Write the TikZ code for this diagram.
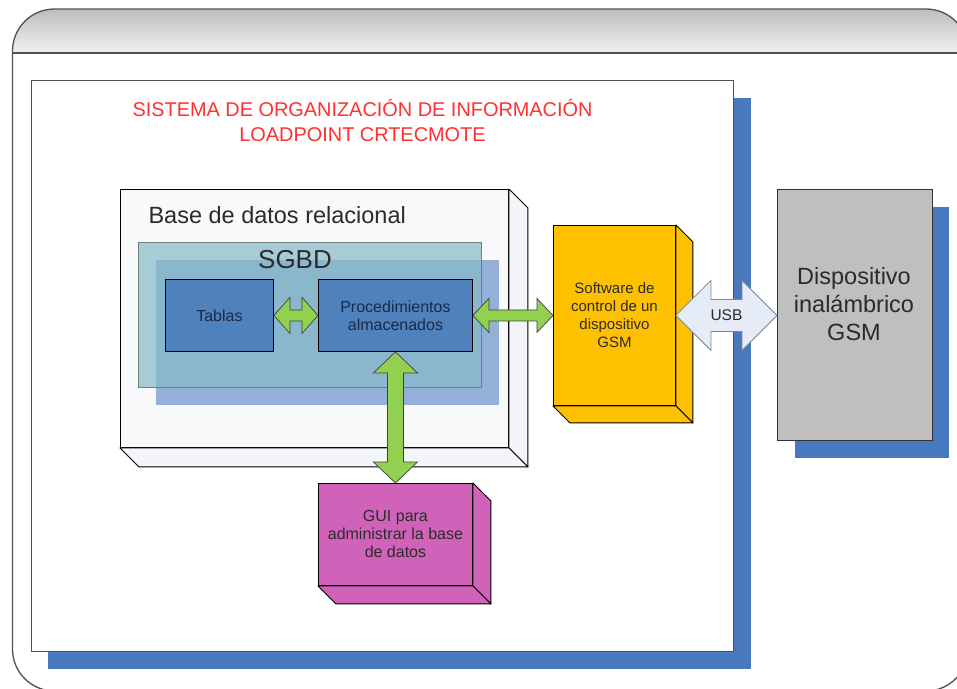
\documentclass[tikz,border=0pt]{standalone}
\usepackage{fontspec}
\setmainfont{Liberation Sans}
\usetikzlibrary{calc}

\definecolor{frameline}{HTML}{505050}
\definecolor{bandtop}{HTML}{BDBDBD}
\definecolor{bandbot}{HTML}{F1F1F1}
\definecolor{shadowblue}{HTML}{4878BE}
\definecolor{titlered}{HTML}{FF3030}
\definecolor{dbfront}{HTML}{F8F9FB}
\definecolor{dbside}{HTML}{F3F5F8}
\definecolor{tealbox}{RGB}{135,186,199}
\definecolor{paleblue}{HTML}{94B0D9}
\definecolor{tableblue}{HTML}{4F81BD}
\definecolor{navytext}{HTML}{1B2A47}
\definecolor{arrowgreen}{HTML}{92D050}
\definecolor{swgold}{HTML}{FFC000}
\definecolor{guipink}{HTML}{D063B9}
\definecolor{devgray}{HTML}{BFBFBF}
\definecolor{usbfill}{HTML}{E6ECF7}
\definecolor{usbline}{HTML}{7D8796}
\definecolor{darktext}{HTML}{2B2B2B}

% horizontal double arrow: style, left point, right point, shaft half, head half, head length
\newcommand\hdarrow[6]{%
  \draw[#1] let \p1=(#2), \p2=(#3) in
    (\x1,\y1) -- (\x1+#6pt,\y1+#5pt) -- (\x1+#6pt,\y1+#4pt) -- (\x2-#6pt,\y1+#4pt)
    -- (\x2-#6pt,\y1+#5pt) -- (\x2,\y1) -- (\x2-#6pt,\y1-#5pt) -- (\x2-#6pt,\y1-#4pt)
    -- (\x1+#6pt,\y1-#4pt) -- (\x1+#6pt,\y1-#5pt) -- cycle;}
% vertical double arrow: style, upper point, lower point, shaft half, head half, head length
\newcommand\vdarrow[6]{%
  \draw[#1] let \p1=(#2), \p2=(#3) in
    (\x1,\y1) -- (\x1+#5pt,\y1-#6pt) -- (\x1+#4pt,\y1-#6pt) -- (\x1+#4pt,\y2+#6pt)
    -- (\x1+#5pt,\y2+#6pt) -- (\x1,\y2) -- (\x1-#5pt,\y2+#6pt) -- (\x1-#4pt,\y2+#6pt)
    -- (\x1-#4pt,\y1-#6pt) -- (\x1-#5pt,\y1-#6pt) -- cycle;}
% side and bottom faces of an extruded box node: node, depth, face colour
\newcommand\boxdepth[3]{%
  \filldraw[fill=#3, draw=black, line width=0.9pt, line join=round]
    (#1.north east) -- ($(#1.north east)+(#2,#2)$) -- ($(#1.south east)+(#2,#2)$) -- (#1.south east) -- cycle;
  \filldraw[fill=#3, draw=black, line width=0.9pt, line join=round]
    (#1.south west) -- ($(#1.south west)+(#2,#2)$) -- ($(#1.south east)+(#2,#2)$) -- (#1.south east) -- cycle;}

\tikzset{
  flatbox/.style={draw=black, line width=0.9pt, anchor=north west, inner sep=0pt, align=center},
  smalltext/.style={font=\fontsize{15}{18}\selectfont},
  midtext/.style={font=\fontsize{16}{18}\selectfont},
  greenarrow/.style={fill=arrowgreen, draw=black!75, line width=0.7pt, line join=miter},
  usbarrow/.style={fill=usbfill, draw=usbline, line width=0.8pt, line join=miter},
}

\begin{document}
\begin{tikzpicture}[x=1pt, y=-1pt]
  \useasboundingbox (0,0) rectangle (957,688);

  % outer window frame with shaded title band
  \begin{scope}
    \clip (0,0) rectangle (957,688);
    \fill[white, rounded corners=42pt] (12.5,9) rectangle (968,691);
    \begin{scope}
      \clip[rounded corners=42pt] (12.5,9) rectangle (968,691);
      \shade[top color=bandtop, bottom color=bandbot] (0,9) rectangle (970,53);
    \end{scope}
    \draw[frameline, line width=1.3pt] (12.5,53) -- (968,53);
    \draw[frameline, line width=1.3pt, rounded corners=42pt] (12.5,9) rectangle (968,691);
  \end{scope}

  % main system panel with its shadow
  \fill[shadowblue] (48,98) rectangle (751,669);
  \node[draw=frameline, fill=white, line width=1.1pt, anchor=north west, inner sep=0pt,
        minimum width=702, minimum height=571] (panel) at (31,80) {};
  \node[text=titlered, font=\fontsize{19.9}{25}\selectfont, anchor=base] (title1) at (362.5,116)
    {SISTEMA DE ORGANIZACIÓN DE INFORMACIÓN};
  \node[text=titlered, font=\fontsize{19.9}{25}\selectfont, anchor=base] (title2) at (362.5,141.7)
    {LOADPOINT CRTECMOTE};

  % relational database box
  \node[flatbox, fill=dbfront, minimum width=388, minimum height=258] (db) at (120,189) {};
  \boxdepth{db}{19}{dbside}
  \node[text=darktext, font=\fontsize{23.5}{28}\selectfont, anchor=base west] (dblabel) at (145,223)
    {Base de datos relacional};

  % DBMS layers
  \node[fill=paleblue, anchor=north west, inner sep=0pt, minimum width=343, minimum height=145] (sgbdback) at (156,260) {};
  \node[fill=tealbox, fill opacity=0.7, draw=gray!85!teal, line width=0.8pt, anchor=north west,
        inner sep=0pt, minimum width=343, minimum height=145] (sgbd) at (138,242) {};
  \node[text=darktext, font=\fontsize{26}{30}\selectfont, anchor=base] (sgbdlabel) at (295,268) {SGBD};

  \node[flatbox, fill=tableblue, text=navytext, midtext, minimum width=108, minimum height=72] (tab) at (165,279) {Tablas};
  \node[flatbox, fill=tableblue, text=navytext, midtext, minimum width=154, minimum height=72] (proc) at (318,279)
    {Procedimientos\\almacenados};

  % GSM control software
  \node[flatbox, fill=swgold, text=darktext, smalltext, minimum width=122, minimum height=180] (sw) at (553,225)
    {Software de\\control de un\\dispositivo\\GSM};
  \boxdepth{sw}{17}{swgold}

  % database administration GUI
  \node[flatbox, fill=guipink, text=darktext, midtext, minimum width=154, minimum height=102] (gui) at (318,483)
    {GUI para\\administrar la base\\de datos};
  \boxdepth{gui}{18}{guipink}

  % wireless GSM device
  \fill[shadowblue] (795,207) rectangle (949,458);
  \node[draw=black!80, fill=devgray, line width=1pt, anchor=north west, inner sep=0pt,
        minimum width=155, minimum height=251] (dev) at (777,189) {};
  \node[text=darktext, font=\fontsize{23.5}{28.3}\selectfont, align=center] (devlabel) at (854,304)
    {Dispositivo\\inalámbrico\\GSM};

  % connectors
  \hdarrow{greenarrow}{tab.east}{proc.west}{5.5}{18}{16}
  \hdarrow{greenarrow}{proc.east}{sw.west}{5.5}{17}{16}
  \vdarrow{greenarrow}{proc.south}{gui.north}{8}{22}{21}
  \hdarrow{usbarrow}{sw.east}{dev.west}{16}{35}{35}
  \node[text=darktext, font=\fontsize{15.5}{18}\selectfont] (usb) at ($(sw.east)!0.5!(dev.west)$) {USB};
\end{tikzpicture}
\end{document}
